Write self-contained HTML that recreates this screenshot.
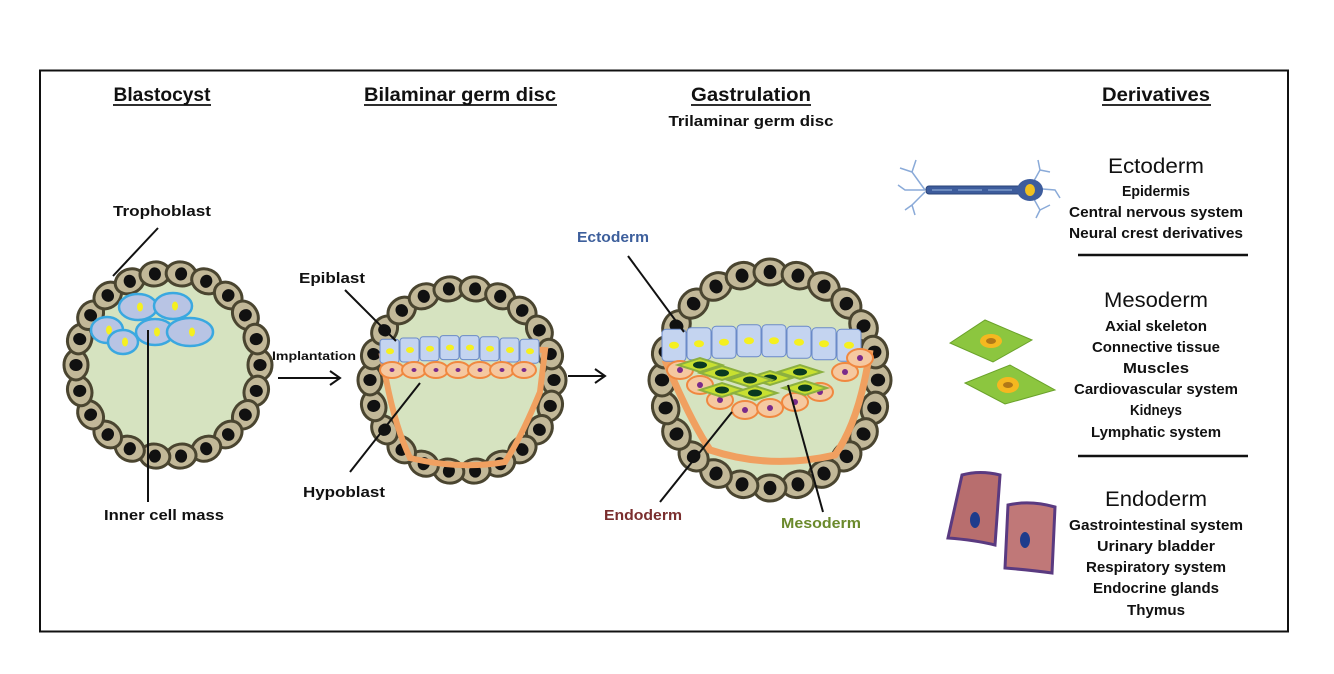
<!DOCTYPE html>
<html><head><meta charset="utf-8"><style>
html,body{margin:0;padding:0;background:#fff;}
svg{display:block;}
text{font-family:"Liberation Sans",sans-serif;font-weight:bold;fill:#111;}
</style></head><body>
<svg id="s" width="1334" height="674" viewBox="0 0 1334 674" xmlns="http://www.w3.org/2000/svg">
<rect x="40" y="70.5" width="1248" height="561" fill="#fff" stroke="#111" stroke-width="2"/>
<g font-size="19" text-anchor="middle">
<text x="162" y="101" textLength="97" lengthAdjust="spacingAndGlyphs">Blastocyst</text>
<text x="460" y="101" textLength="192" lengthAdjust="spacingAndGlyphs">Bilaminar germ disc</text>
<text x="751" y="101" textLength="120" lengthAdjust="spacingAndGlyphs">Gastrulation</text>
<text x="1156" y="101" textLength="108" lengthAdjust="spacingAndGlyphs">Derivatives</text>
</g>
<g stroke="#111" stroke-width="1.8">
<line x1="113" y1="105" x2="211" y2="105"/><line x1="364" y1="105" x2="557" y2="105"/>
<line x1="691" y1="105" x2="811" y2="105"/><line x1="1102" y1="105" x2="1211" y2="105"/>
</g>
<text x="751" y="126" font-size="15" text-anchor="middle" textLength="165" lengthAdjust="spacingAndGlyphs">Trilaminar germ disc</text>

<g id="bodies"></g>

<g font-size="15" text-anchor="middle">
<text x="162" y="216" textLength="98" lengthAdjust="spacingAndGlyphs">Trophoblast</text>
<text x="164" y="520" textLength="120" lengthAdjust="spacingAndGlyphs">Inner cell mass</text>
<text x="332" y="283" textLength="66" lengthAdjust="spacingAndGlyphs">Epiblast</text>
<text x="344" y="497" textLength="82" lengthAdjust="spacingAndGlyphs">Hypoblast</text>
<text x="314" y="360" font-size="12" textLength="84" lengthAdjust="spacingAndGlyphs">Implantation</text>
<text x="613" y="242" style="fill:#3d5f9c" textLength="72" lengthAdjust="spacingAndGlyphs">Ectoderm</text>
<text x="643" y="520" style="fill:#7a2e2e" textLength="78" lengthAdjust="spacingAndGlyphs">Endoderm</text>
<text x="821" y="528" style="fill:#6b8a2c" textLength="80" lengthAdjust="spacingAndGlyphs">Mesoderm</text>
</g>
<g stroke="#111" stroke-width="2" fill="none">
<line x1="158" y1="228" x2="113" y2="276"/>
<line x1="148" y1="330" x2="148" y2="502"/>
<line x1="345" y1="290" x2="396" y2="341"/>
<line x1="350" y1="472" x2="420" y2="383"/>
<line x1="628" y1="256" x2="684" y2="332"/>
<line x1="660" y1="502" x2="732" y2="412"/>
<line x1="823" y1="512" x2="788" y2="385"/>
<line x1="278" y1="378" x2="338" y2="378"/><polyline points="330,371 340,378 330,385"/>
<line x1="568" y1="376" x2="603" y2="376"/><polyline points="595,369 605,376 595,383"/>
</g>

<g text-anchor="middle">
<text x="1156" y="173" font-size="21" style="font-weight:normal" textLength="96" lengthAdjust="spacingAndGlyphs">Ectoderm</text>
<g font-size="15">
<text x="1156" y="196" textLength="68" lengthAdjust="spacingAndGlyphs">Epidermis</text>
<text x="1156" y="217" textLength="174" lengthAdjust="spacingAndGlyphs">Central nervous system</text>
<text x="1156" y="238" textLength="174" lengthAdjust="spacingAndGlyphs">Neural crest derivatives</text>
</g>
<text x="1156" y="307" font-size="21" style="font-weight:normal" textLength="104" lengthAdjust="spacingAndGlyphs">Mesoderm</text>
<g font-size="15">
<text x="1156" y="331" textLength="102" lengthAdjust="spacingAndGlyphs">Axial skeleton</text>
<text x="1156" y="352" textLength="128" lengthAdjust="spacingAndGlyphs">Connective tissue</text>
<text x="1156" y="373" textLength="66" lengthAdjust="spacingAndGlyphs">Muscles</text>
<text x="1156" y="394" textLength="164" lengthAdjust="spacingAndGlyphs">Cardiovascular system</text>
<text x="1156" y="415" textLength="52" lengthAdjust="spacingAndGlyphs">Kidneys</text>
<text x="1156" y="437" textLength="130" lengthAdjust="spacingAndGlyphs">Lymphatic system</text>
</g>
<text x="1156" y="506" font-size="21" style="font-weight:normal" textLength="102" lengthAdjust="spacingAndGlyphs">Endoderm</text>
<g font-size="15">
<text x="1156" y="530" textLength="174" lengthAdjust="spacingAndGlyphs">Gastrointestinal system</text>
<text x="1156" y="551" textLength="118" lengthAdjust="spacingAndGlyphs">Urinary bladder</text>
<text x="1156" y="572" textLength="140" lengthAdjust="spacingAndGlyphs">Respiratory system</text>
<text x="1156" y="593" textLength="126" lengthAdjust="spacingAndGlyphs">Endocrine glands</text>
<text x="1156" y="615" textLength="58" lengthAdjust="spacingAndGlyphs">Thymus</text>
</g>
</g>
<g stroke="#111" stroke-width="2.5"><line x1="1078" y1="255" x2="1248" y2="255"/><line x1="1078" y1="456" x2="1248" y2="456"/></g>

<g fill="none" stroke="#8aaad8" stroke-width="1.5">
<path d="M925 190 L912 172 L916 160 M912 172 L900 168 M925 190 L905 190 L898 185 M925 192 L912 205 L905 210 M912 205 L915 215 M1030 188 L1040 170 L1038 160 M1040 170 L1050 172 M1030 188 L1055 190 L1060 198 M1030 192 L1040 210 L1036 218 M1040 210 L1050 205"/>
</g>
<rect x="926" y="186" width="100" height="8" rx="3" fill="#3d5c9c" stroke="#2a4478"/>
<g stroke="#9ab8e0" stroke-width="1"><line x1="932" y1="190" x2="952" y2="190"/><line x1="958" y1="190" x2="982" y2="190"/><line x1="988" y1="190" x2="1012" y2="190"/></g>
<ellipse cx="1030" cy="190" rx="13" ry="11" fill="#3d5c9c"/>
<ellipse cx="1030" cy="190" rx="5" ry="6" fill="#f0c020"/>
<polygon points="950,343 985,320 1032,340 993,362" fill="#8cc63f" stroke="#6aa22a"/>
<ellipse cx="991" cy="341" rx="11" ry="7" fill="#f5b820"/><ellipse cx="991" cy="341" rx="5" ry="3" fill="#b07818"/>
<polygon points="965,383 1010,365 1055,390 1005,404" fill="#8cc63f" stroke="#6aa22a"/>
<ellipse cx="1008" cy="385" rx="11" ry="8" fill="#f5b820"/><ellipse cx="1008" cy="385" rx="5" ry="3" fill="#b07818"/>
<path d="M962 475 Q980 470 1000 475 L995 545 Q975 540 948 538 Z" fill="#b86e6e" stroke="#5a3a80" stroke-width="3"/>
<ellipse cx="975" cy="520" rx="5" ry="8" fill="#1e3c8c"/>
<path d="M1008 505 Q1030 500 1055 507 L1052 573 Q1030 570 1005 568 Z" fill="#c07878" stroke="#5a3a80" stroke-width="3"/>
<ellipse cx="1025" cy="540" rx="5" ry="8" fill="#1e3c8c"/>
</svg>
<script>
var NS="http://www.w3.org/2000/svg",g=document.getElementById("bodies");
function el(t,a){var e=document.createElementNS(NS,t);for(var k in a)e.setAttribute(k,a[k]);g.appendChild(e);return e;}
function ring(cx,cy,R,n,rx,ry){
 el("circle",{cx:cx,cy:cy,r:R,fill:"#d6e3c0"});
 for(var i=0;i<n;i++){var a=i/n*2*Math.PI,x=cx+R*Math.cos(a),y=cy+R*Math.sin(a),d=a*180/Math.PI+90;
  el("ellipse",{cx:x,cy:y,rx:rx,ry:ry,fill:"#c2b898",stroke:"#4a4530","stroke-width":3,transform:"rotate("+d+" "+x+" "+y+")"});
  el("ellipse",{cx:x,cy:y,rx:rx*0.4,ry:ry*0.55,fill:"#111",transform:"rotate("+d+" "+x+" "+y+")"});}
}
ring(168,365,92,22,15,12);
ring(462,380,92,22,15,12);
ring(770,380,108,24,16,13);
[[138,307,19,13],[173,306,19,13],[107,330,16,13],[123,342,15,12],[155,332,19,13],[190,332,23,14]].forEach(function(c){
 el("ellipse",{cx:c[0],cy:c[1],rx:c[2],ry:c[3],fill:"#b8c4e4",stroke:"#3aa8e0","stroke-width":2.5});
 el("ellipse",{cx:c[0]+2,cy:c[1],rx:3,ry:4.5,fill:"#f5f020"});});
el("path",{d:"M382 356 Q462 345 545 350 L540 392 Q520 440 505 462 Q460 470 410 458 Q392 420 382 356 Z",fill:"none",stroke:"#f0a060","stroke-width":6});
for(var i=0;i<8;i++){var x=380+i*20,y=335+Math.abs(i-3.5)*1.2;
 el("rect",{x:x,y:y,width:19,height:24,rx:3,fill:"#c4d4f0",stroke:"#6a8ac8"});
 el("ellipse",{cx:x+10,cy:y+12,rx:4,ry:3,fill:"#f5f020"});}
for(var i=0;i<7;i++){var x=392+i*22,y=370;
 el("ellipse",{cx:x,cy:y,rx:12,ry:8,fill:"#f5c8a0",stroke:"#f08840","stroke-width":2});
 el("ellipse",{cx:x,cy:y,rx:2.5,ry:2,fill:"#7a2a8a"});}
el("path",{d:"M665 360 Q690 420 710 450 Q770 470 835 455 Q860 420 870 350",fill:"none",stroke:"#f0a060","stroke-width":7});
for(var i=0;i<8;i++){var x=662+i*25,y=324+Math.abs(i-3.5)*1.5;
 el("rect",{x:x,y:y,width:24,height:32,rx:4,fill:"#c4d4f0",stroke:"#6a8ac8"});
 el("ellipse",{cx:x+12,cy:y+16,rx:5,ry:3.5,fill:"#f5f020"});}
[[680,370],[700,385],[720,400],[745,410],[770,408],[795,402],[820,392],[845,372],[860,358]].forEach(function(c){
 el("ellipse",{cx:c[0],cy:c[1],rx:13,ry:9,fill:"#f5c8a0",stroke:"#f08840","stroke-width":2});
 el("ellipse",{cx:c[0],cy:c[1],rx:3,ry:3,fill:"#7a2a8a"});});
[[700,365],[722,373],[722,390],[755,393],[770,378],[800,372],[805,388],[750,380]].forEach(function(c){
 el("polygon",{points:(c[0]-22)+","+c[1]+" "+c[0]+","+(c[1]-7)+" "+(c[0]+22)+","+c[1]+" "+c[0]+","+(c[1]+7),fill:"#c8e030",stroke:"#8cb040","stroke-width":2});
 el("ellipse",{cx:c[0],cy:c[1],rx:7,ry:3.5,fill:"#0a3a20"});});
</script>
</body></html>
